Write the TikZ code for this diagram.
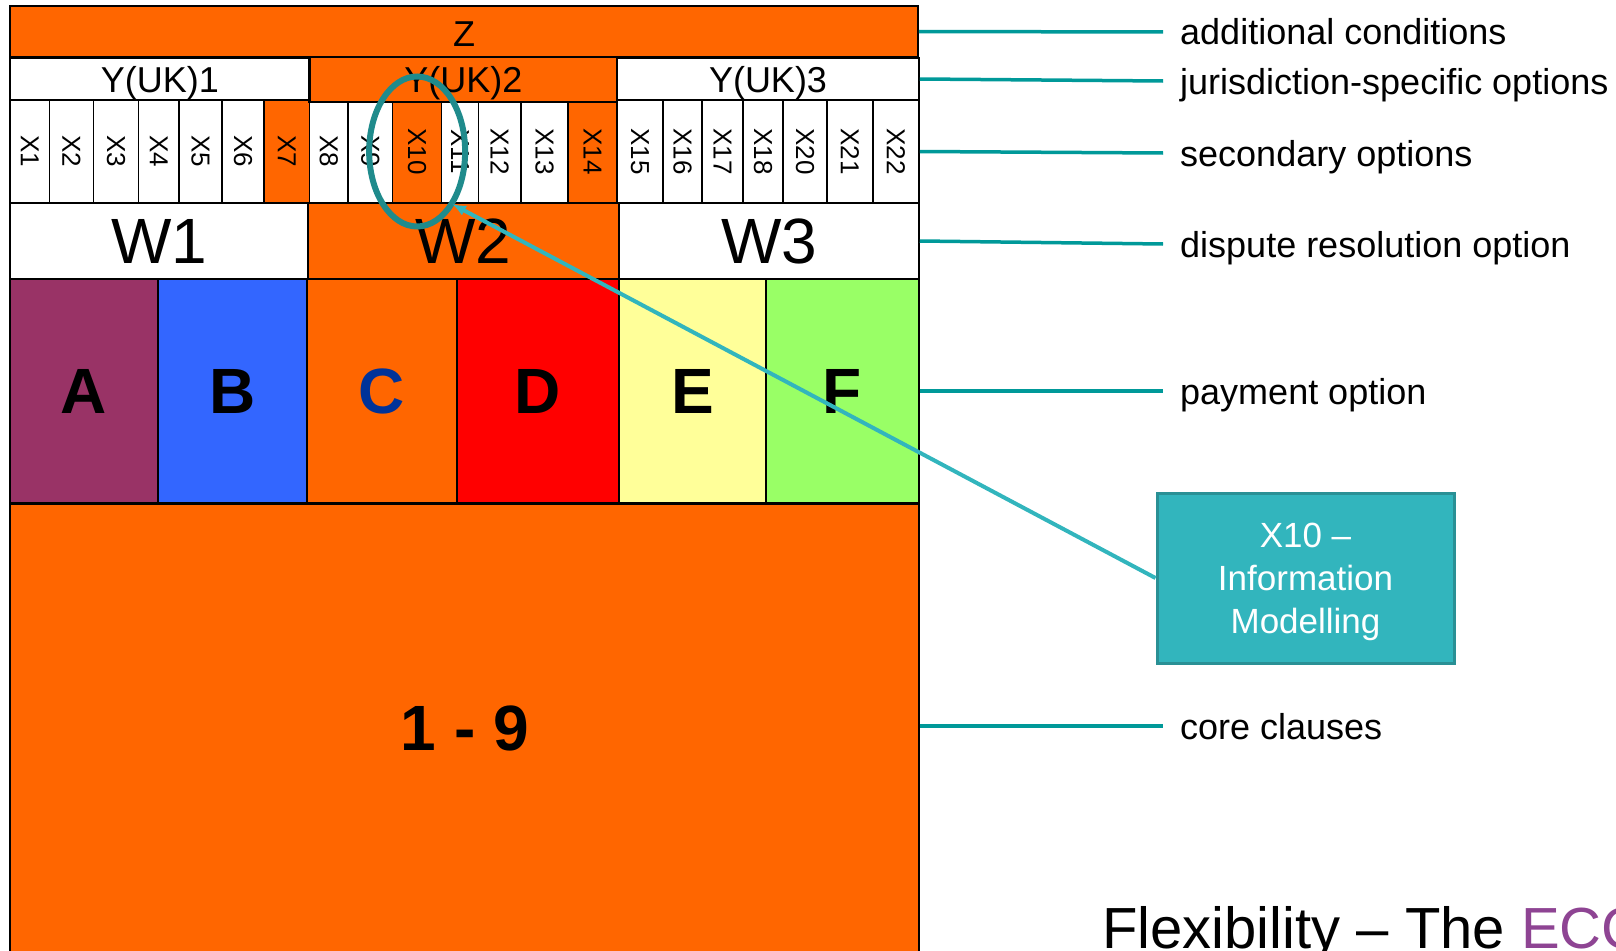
\documentclass[tikz,border=0pt]{standalone}
\usepackage{fontspec}
\setmainfont{Liberation Sans}
\usetikzlibrary{arrows.meta}
\definecolor{NecOrange}{HTML}{FF6600}
\definecolor{OptA}{HTML}{993366}
\definecolor{OptB}{HTML}{3366FF}
\definecolor{OptCText}{HTML}{003399}
\definecolor{OptD}{HTML}{FF0000}
\definecolor{OptE}{HTML}{FFFF99}
\definecolor{OptF}{HTML}{99FF66}
\definecolor{LeadTeal}{HTML}{009999}
\definecolor{RingTeal}{HTML}{1F8B8C}
\definecolor{NoteTeal}{HTML}{32B5BD}
\definecolor{NoteEdge}{HTML}{2A9095}
\definecolor{TitlePurple}{HTML}{8E4493}
\tikzset{>=latex}
\tikzset{
	block/.style={draw=black, line width=1.5, inner sep=0pt},
	heavy/.style={block, line width=2.5},
	rowtext/.style={text depth=0pt, font=\fontsize{36}{40}\selectfont},
	wtext/.style={text depth=0pt, font=\fontsize{64}{70}\selectfont},
	lettertext/.style={text depth=0pt, font=\bfseries\fontsize{64}{70}\selectfont},
	xcell/.style={block, minimum height=103, font=\fontsize{26}{30}\selectfont},
	leader/.style={LeadTeal, line width=3.5},
	sidelabel/.style={anchor=west, inner xsep=17, inner ysep=0, text height=29, text depth=3, font=\fontsize{36}{40}\selectfont},
	notebox/.style={fill=NoteTeal, draw=NoteEdge, line width=3, text=white, align=center, minimum width=297, minimum height=170, text depth=0pt, font=\fontsize{35}{43}\selectfont},
	pointer/.style={-{Latex[length=14,width=11]}, NoteTeal, line width=4}
}

\begin{document}
\begin{tikzpicture}[x=1pt, y=-1pt]
	\useasboundingbox (0,0) rectangle (1616,950);
	
	% Top rows
	\node[block, fill=NecOrange, minimum width=908, minimum height=51, rowtext, text height=31] (Z) at (464,31.5) {Z};
	\node[block, fill=white, minimum width=299.6, minimum height=42, rowtext] (Y1) at (159.8,79) {Y(UK)1};
	\node[block, fill=white, minimum width=302, minimum height=42, rowtext] (Y3) at (768,79) {Y(UK)3};
	
	% Secondary options
	\foreach \lab/\xa/\xb/\fc in {X1/10/49.4/white, X2/49.4/93.7/white, X3/93.7/138.4/white, X4/138.4/179/white, X5/179/222/white, X6/222/264/white, X7/264/309.6/NecOrange, X8/309.6/348/white, X9/348/392.6/white, X10/392.6/441.7/NecOrange, X11/441.7/478.5/white, X12/478.5/521/white, X13/521/568/white, X14/568/617/NecOrange, X15/617/663/white, X16/663/702/white, X17/702/743/white, X18/743/783/white, X20/783/827/white, X21/827/873/white, X22/873/919/white}
		\node[xcell, fill=\fc, minimum width={(\xb-\xa)*1pt}] (\lab) at ({(\xa+\xb)/2},151.5) {\rotatebox{-90}{\lab}};
	\node[heavy, fill=NecOrange, minimum width=307.4, minimum height=45, rowtext] (Y2) at (463.3,79.5) {Y(UK)2};
	
	% Dispute resolution
	\node[block, fill=white, minimum width=298, minimum height=76, wtext] (W1) at (159,241) {W1};
	\node[block, fill=white, minimum width=300, minimum height=76, wtext] (W3) at (769,241) {W3};
	\node[heavy, fill=NecOrange, minimum width=311, minimum height=76, wtext] (W2) at (463.5,241) {W2};
	
	% Main options
	\node[block, fill=OptA, minimum width=148, minimum height=224, lettertext] (A) at (84,391) {A};
	\node[block, fill=OptB, minimum width=149, minimum height=224, lettertext] (B) at (232.5,391) {B};
	\node[block, fill=NecOrange, minimum width=150, minimum height=224, lettertext, text=OptCText] (C) at (382,391) {C};
	\node[block, fill=OptD, minimum width=162, minimum height=224, lettertext] (D) at (538,391) {D};
	\node[block, fill=OptE, minimum width=147, minimum height=224, lettertext] (E) at (692.5,391) {E};
	\node[block, fill=OptF, minimum width=153, minimum height=224, lettertext] (F) at (842.5,391) {F};
	
	% Core clauses
	\node[block, fill=NecOrange, minimum width=909, minimum height=457, anchor=north] (core) at (464.5,503) {};
	\node[lettertext] (nums) at (465,728) {1 - 9};
	
	% Side labels
	\node[sidelabel] (lz) at (1163,32) {additional conditions};
	\node[sidelabel] (ly) at (1163,81) {jurisdiction-specific options};
	\node[sidelabel] (lx) at (1163,153) {secondary options};
	\node[sidelabel] (lw) at (1163,244) {dispute resolution option};
	\node[sidelabel] (lp) at (1163,391) {payment option};
	\node[sidelabel] (lc) at (1163,726) {core clauses};
	\draw[leader] (Z.east) -- (lz.west);
	\draw[leader] (Y3.east) -- (ly.west);
	\draw[leader] (X22.east) -- (lx.west);
	\draw[leader] (W3.east) -- (lw.west);
	\draw[leader] (F.east) -- (lp.west);
	\draw[leader] (lc.west -| core.east) -- (lc.west);
	
	% Highlight of X10
	\draw[RingTeal, line width=6] (X10) ellipse [x radius=48, y radius=75];
	\node[notebox] (info) at (1305.5,578) {X10 –\\Information\\Modelling};
	\coordinate (tip) at (452,204);
	\draw[pointer] (info.west) -- (tip);
	
	% Title
	\node[anchor=base west, inner sep=0pt, font=\fontsize{58}{64}\selectfont] (title) at (1102,948) {Flexibility – The \textcolor{TitlePurple}{ECC}};
\end{tikzpicture}
\end{document}
